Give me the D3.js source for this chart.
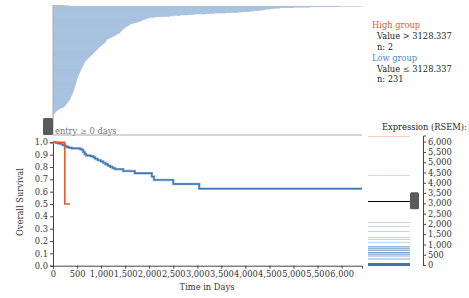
<!DOCTYPE html>
<html>
<head>
<meta charset="utf-8">
<script src="https://cdn.jsdelivr.net/npm/d3@7"></script>
<style>
  body { margin: 0; background: #fff; }
  svg { display: block; }
  svg text { font-family: "DejaVu Serif", serif; }
</style>
</head>
<body>
<div id="chart"></div>
<script>
// follow-up time in days, one per patient (sorted long -> short)
const highTimes = [353, 245]
const lowTimes = [
  6424, 5980, 5343, 5010, 4719, 4600, 4510, 4420, 4380, 4300, 4180,
  4100, 3950, 3850, 3600, 3350, 3180,
  2950, 2800, 2650, 2520, 2430, 2250, 2100, 2010,
  1980, 1952, 1921, 1893, 1861, 1842, 1818,
  1800, 1762, 1718, 1690, 1651, 1622,
  1600, 1588, 1571, 1556, 1538, 1521, 1507, 1490, 1481, 1468, 1455,
  1446, 1433, 1426, 1414, 1409, 1398, 1393,
  1376, 1353, 1337, 1314, 1301, 1284, 1266, 1247,
  1226, 1198, 1181, 1159, 1141, 1123,
  1116, 1107, 1101, 1094, 1089, 1083,
  1071, 1058, 1049, 1034, 1026, 1011, 1001, 989, 979, 964, 956, 944, 936, 924, 915,
  906, 894, 886, 874, 866, 854, 846, 834, 826, 814, 806, 794, 786, 770,
  761, 749, 741, 729, 721, 711, 703, 692, 685, 674, 665,
  661, 654, 651, 644, 641, 634, 631, 624, 621, 614, 611, 604, 600, 593, 589, 582,
  579, 573, 571, 565, 563, 557, 555, 549, 547, 541, 539, 533, 531, 525, 523, 517, 515, 509, 507, 501, 499,
  497, 492, 491, 486, 485, 480, 479, 474, 473, 468, 467, 462, 461, 456, 455, 450, 449, 444, 443, 438, 437, 432, 431, 426, 424, 419, 416,
  411, 404, 401, 394, 391, 385, 383, 377, 375, 369, 367, 361, 358, 353,
  346, 337, 331, 321, 315, 304, 297, 286, 279, 269, 263, 253, 247, 237, 229,
  205, 181, 159, 141, 119, 104,
  93, 79, 71, 59, 51, 42,
  36, 31, 24, 21, 14, 11, 8, 5, 2, 0
]

// Kaplan-Meier steps
const kmHighT = [0, 245, 353]
const kmHighS = [1.0, 0.5, 0.5]
const kmLowT = [0, 60, 110, 150, 200, 245, 290, 330, 390, 560, 600, 630, 660, 690, 780, 840, 880, 930, 990, 1040,
  1090, 1140, 1190, 1240, 1290, 1460, 1700, 2055, 2100, 2500, 3040, 6424]
const kmLowS = [1.0, 0.996, 0.991, 0.987, 0.978, 0.969, 0.962, 0.956, 0.951, 0.945, 0.938, 0.92, 0.905, 0.893, 0.887,
  0.878, 0.866, 0.855, 0.846, 0.834, 0.822, 0.81, 0.8, 0.791, 0.782, 0.767, 0.749, 0.722, 0.695, 0.662, 0.624, 0.624]

// expression (RSEM) per patient
const threshold = 3128.337
const highExpr = [6300, 4380]
const lowExpr = [
  2077, 1897, 1654, 1347, 1250, 1134, 326, 310,
  923, 905, 862, 845, 812, 790, 741, 722, 650, 632, 611, 590, 553, 531, 486, 438,
  95, 92, 90, 88, 87, 85, 84, 83, 81, 80, 79, 78, 77, 76, 75, 74, 73, 72, 71, 70,
  69, 68, 67, 66, 66, 65, 64, 63, 62, 61, 60, 60, 59, 58, 57, 56, 55, 55, 54, 53,
  52, 51, 50, 50, 49, 48, 47, 46, 45, 45, 44, 43, 42, 41, 40, 40, 39, 38, 37, 36,
  35, 35, 34, 33, 32, 31, 30, 30, 29, 28, 27, 26, 25, 25, 24, 23, 22, 21, 20, 20,
  19, 18, 17, 16, 15, 15, 14, 13, 12, 11, 10, 10, 9, 8, 7, 6, 5, 5, 4, 3,
  62, 58, 54, 47, 44, 39, 33, 28, 24, 18, 14, 9, 71, 66, 57, 49, 41, 36, 29, 22,
  17, 12, 8, 4, 2, 1, 0, 0, 3, 6, 11, 16, 21, 27, 34, 38, 43, 48, 53, 59,
  64, 68, 73, 78, 82, 86, 13, 19, 26, 31, 37, 42, 46, 52, 56, 61, 67, 2, 7, 1,
  0, 5, 9, 15, 23, 32, 44, 27, 18, 6, 3, 1, 0, 12, 39
]

const xTicks = d3.range(0, 6001, 500)
const yTicks = d3.range(0, 1.0001, 0.1)
const exprTicks = d3.range(0, 6001, 500)

const highColor = "#e5582c"
const lowColor = "#3f74ad"
const fontSize = 8.3
const width = 469, height = 298

const svg = d3.select("#chart").append("svg")
  .attr("width", width).attr("height", height)
  .attr("viewBox", [0, 0, width, height])

const x = d3.scaleLinear().domain([0, d3.max(lowTimes.concat(highTimes))]).range([53, 362])
const y = d3.scaleLinear().domain([0, 1]).range([265.7, 142.3])

// top panel: one row per patient
const rows = highTimes.map(t => ({ t, g: "high" })).concat(lowTimes.map(t => ({ t, g: "low" })))
const rowY = d3.scaleBand().domain(d3.range(rows.length)).range([5, 118])
svg.append("g")
  .selectAll("rect")
  .data(rows)
  .join("rect")
  .attr("x", x(0))
  .attr("y", (d, i) => rowY(i))
  .attr("width", d => x(d.t) - x(0))
  .attr("height", rowY.bandwidth())
  .attr("fill", d => d.g == "high" ? "#ef8f6c" : "#88acd4")

svg.append("path")
  .attr("d", `M53,5V135H362`)
  .attr("fill", "none")
  .attr("stroke", "#aaa")
svg.append("rect")
  .attr("x", 43).attr("y", 118).attr("width", 10).attr("height", 17)
  .attr("rx", 1.5).attr("fill", "#5a5a5a")
svg.append("text")
  .attr("x", 55).attr("y", 133.5)
  .attr("font-size", fontSize).attr("fill", "#777")
  .text("entry \u2265 0 days")

const styleAxis = g => {
  g.attr("font-family", null).attr("font-size", null)
  g.selectAll("text").attr("font-size", fontSize).attr("fill", "#333")
  g.selectAll("line,path").attr("stroke", "#444")
  g.select(".domain").attr("fill", "none")
}

// KM axes
svg.append("g")
  .attr("transform", `translate(0,${y(0)})`)
  .call(d3.axisBottom(x).tickValues(xTicks).tickFormat(d3.format(",")).tickSize(3).tickPadding(2))
  .call(styleAxis)
svg.append("g")
  .attr("transform", `translate(${x(0)},0)`)
  .call(d3.axisLeft(y).tickValues(yTicks).tickFormat(d3.format(".1f")).tickSize(3).tickPadding(2))
  .call(styleAxis)

svg.append("text")
  .attr("transform", "translate(23,202)rotate(-90)")
  .attr("text-anchor", "middle").attr("font-size", fontSize).attr("fill", "#333")
  .text("Overall Survival")
svg.append("text")
  .attr("x", 207).attr("y", 290)
  .attr("text-anchor", "middle").attr("font-size", fontSize).attr("fill", "#333")
  .text("Time in Days")

// KM curves
const line = d3.line().x(d => x(d[0])).y(d => y(d[1])).curve(d3.curveStepAfter)
svg.append("path")
  .datum(d3.zip(kmLowT, kmLowS))
  .attr("d", line).attr("fill", "none")
  .attr("stroke", "#9dbbdc").attr("stroke-width", 2.6)
svg.append("path")
  .datum(d3.zip(kmLowT, kmLowS))
  .attr("d", line).attr("fill", "none")
  .attr("stroke", lowColor).attr("stroke-width", 1.3)
svg.append("path")
  .datum(d3.zip(kmHighT, kmHighS))
  .attr("d", line).attr("fill", "none")
  .attr("stroke", highColor).attr("stroke-width", 1.6)

// legend
const legend = [
  { t: "High group", x: 372, y: 28, c: highColor },
  { t: "Value > " + threshold, x: 377, y: 39, c: "#222" },
  { t: "n: " + highTimes.length, x: 377, y: 49.5, c: "#222" },
  { t: "Low group", x: 372, y: 61, c: "#4a86c5" },
  { t: "Value \u2264 " + threshold, x: 377, y: 71.5, c: "#222" },
  { t: "n: " + lowTimes.length, x: 377, y: 82, c: "#222" }
]
svg.append("g").selectAll("text").data(legend).join("text")
  .attr("x", d => d.x).attr("y", d => d.y)
  .attr("font-size", fontSize).attr("fill", d => d.c)
  .text(d => d.t)

// expression panel
const ey = d3.scaleLinear().domain([0, d3.max(highExpr)]).range([265, 135.5])
const py = v => Math.round(ey(v)) + 0.5
svg.append("text")
  .attr("x", 382).attr("y", 130)
  .attr("font-size", fontSize).attr("fill", "#222")
  .text("Expression (RSEM):")
const expr = highExpr.map(v => ({ v, g: "high" })).concat(lowExpr.map(v => ({ v, g: "low" })))
svg.append("g").selectAll("line").data(expr).join("line")
  .attr("x1", 368).attr("x2", 410)
  .attr("y1", d => py(d.v)).attr("y2", d => py(d.v))
  .attr("stroke", d => d.g == "high" ? highColor : lowColor)
  .attr("stroke-opacity", 0.3)
svg.append("line")
  .attr("x1", 368).attr("x2", 410)
  .attr("y1", py(threshold)).attr("y2", py(threshold))
  .attr("stroke", "#000").attr("stroke-width", 1.2)
svg.append("rect")
  .attr("x", 410).attr("y", ey(threshold) - 8.5).attr("width", 9).attr("height", 17)
  .attr("rx", 1.5).attr("fill", "#5a5a5a")
svg.append("g")
  .attr("transform", "translate(423,0)")
  .call(d3.axisRight(ey).tickValues(exprTicks).tickFormat(d3.format(",")).tickSize(3).tickPadding(2))
  .call(styleAxis)
</script>
</body>
</html>
